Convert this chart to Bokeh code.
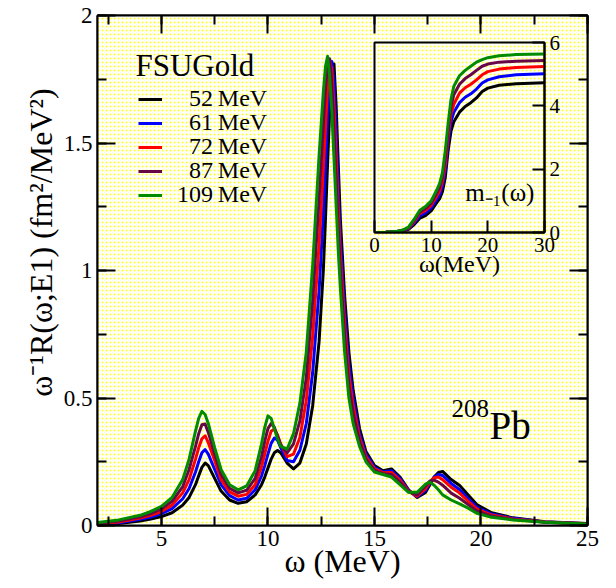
from bokeh.plotting import figure
from bokeh.models import (LinearAxis, SingleIntervalTicker, FixedTicker, BoxAnnotation,
                          Legend, LegendItem, Label, Range1d, CustomJSTickFormatter)
from bokeh.embed import file_html
from bokeh.resources import INLINE

FONT = "Liberation Serif"

# ---------------- data: main panel ----------------
omega = [2, 3, 4, 4.5, 5, 5.5, 6, 6.3, 6.6, 6.75, 6.9, 7.05, 7.2, 7.5, 7.8, 8.2, 8.6, 9.0, 9.4, 9.7,
         9.85, 10.0, 10.15, 10.3, 10.45, 10.6, 10.9, 11.2, 11.5, 11.8, 12.1, 12.4, 12.6, 12.7, 12.8,
         12.9, 13.0, 13.1, 13.2, 13.3, 13.4, 13.6, 13.8, 14.0, 14.3, 14.6, 15.0, 15.4, 15.8, 16.2,
         16.6, 17.0, 17.4, 17.6, 17.8, 18.0, 18.2, 18.6, 19.0, 19.4, 19.8, 20.5, 21.5, 23, 25]

r52 = [0.003, 0.008, 0.018, 0.025, 0.035, 0.05, 0.08, 0.11, 0.16, 0.195,
       0.228, 0.245, 0.235, 0.185, 0.135, 0.1, 0.087, 0.093, 0.12, 0.16,
       0.19, 0.225, 0.26, 0.285, 0.294, 0.285, 0.245, 0.222, 0.245, 0.32,
       0.47, 0.72, 1.0, 1.2, 1.42, 1.63, 1.78, 1.81, 1.65, 1.42,
       1.2, 0.9, 0.68, 0.53, 0.38, 0.29, 0.235, 0.215, 0.222, 0.19,
       0.14, 0.11, 0.13, 0.16, 0.19, 0.208, 0.212, 0.18, 0.157, 0.12,
       0.082, 0.05, 0.03, 0.015, 0.008]
r61 = [0.005, 0.011, 0.024, 0.033, 0.046, 0.066, 0.105, 0.145, 0.21, 0.25,
       0.285, 0.298, 0.28, 0.22, 0.16, 0.117, 0.1, 0.107, 0.14, 0.195,
       0.235, 0.28, 0.322, 0.343, 0.335, 0.305, 0.255, 0.25, 0.295, 0.4,
       0.6, 0.92, 1.22, 1.4, 1.6, 1.76, 1.82, 1.74, 1.55, 1.32,
       1.12, 0.84, 0.63, 0.5, 0.36, 0.28, 0.228, 0.21, 0.215, 0.185,
       0.138, 0.112, 0.138, 0.165, 0.19, 0.2, 0.196, 0.165, 0.14, 0.105,
       0.072, 0.045, 0.028, 0.014, 0.007]
r72 = [0.007, 0.014, 0.029, 0.04, 0.055, 0.08, 0.128, 0.18, 0.26, 0.305,
       0.34, 0.352, 0.325, 0.255, 0.18, 0.132, 0.115, 0.122, 0.16, 0.23,
       0.28, 0.33, 0.37, 0.378, 0.355, 0.32, 0.27, 0.28, 0.345, 0.49,
       0.74, 1.1, 1.4, 1.56, 1.72, 1.82, 1.79, 1.64, 1.45, 1.24,
       1.06, 0.79, 0.59, 0.47, 0.345, 0.27, 0.222, 0.207, 0.208, 0.178,
       0.135, 0.115, 0.145, 0.17, 0.187, 0.19, 0.18, 0.15, 0.127, 0.095,
       0.065, 0.041, 0.026, 0.014, 0.007]
r87 = [0.009, 0.018, 0.034, 0.047, 0.065, 0.095, 0.152, 0.22, 0.31, 0.36,
       0.395, 0.398, 0.365, 0.28, 0.2, 0.146, 0.128, 0.138, 0.185, 0.27,
       0.33, 0.38, 0.4, 0.385, 0.35, 0.315, 0.285, 0.32, 0.41, 0.58,
       0.88, 1.28, 1.57, 1.71, 1.81, 1.83, 1.73, 1.56, 1.37, 1.17,
       1.0, 0.74, 0.55, 0.44, 0.33, 0.26, 0.216, 0.203, 0.2, 0.17,
       0.132, 0.12, 0.155, 0.175, 0.178, 0.17, 0.158, 0.127, 0.107, 0.082,
       0.057, 0.037, 0.024, 0.013, 0.006]
r109 = [0.012, 0.022, 0.04, 0.055, 0.075, 0.11, 0.18, 0.26, 0.37, 0.42,
        0.448, 0.435, 0.4, 0.305, 0.22, 0.16, 0.14, 0.155, 0.215, 0.32,
        0.385, 0.43, 0.42, 0.38, 0.34, 0.31, 0.3, 0.36, 0.48, 0.68,
        1.02, 1.45, 1.7, 1.8, 1.84, 1.76, 1.62, 1.44, 1.26, 1.08,
        0.93, 0.68, 0.5, 0.4, 0.31, 0.25, 0.21, 0.2, 0.19, 0.16,
        0.13, 0.13, 0.162, 0.17, 0.158, 0.14, 0.12, 0.1, 0.085, 0.068,
        0.048, 0.032, 0.022, 0.013, 0.006]

# ---------------- data: inset (cumulative m_-1) ----------------
omega_cum = [0, 2, 4, 5, 6, 7, 8, 9, 10, 11, 11.5, 12, 12.5, 13, 13.5, 14, 15, 16, 17, 18, 19, 20, 22, 25, 30]
m52 = [0, 0.005, 0.02, 0.05, 0.1, 0.25, 0.45, 0.53, 0.68, 0.95, 1.07, 1.3, 1.75, 2.6, 3.2, 3.5, 3.8, 3.98, 4.1, 4.25, 4.45, 4.56, 4.65, 4.7, 4.73]
m61 = [0, 0.006, 0.025, 0.06, 0.12, 0.3, 0.53, 0.62, 0.78, 1.05, 1.2, 1.47, 1.95, 2.85, 3.5, 3.8, 4.1, 4.27, 4.38, 4.53, 4.72, 4.82, 4.92, 4.98, 5.01]
m72 = [0, 0.007, 0.03, 0.065, 0.135, 0.34, 0.6, 0.7, 0.86, 1.15, 1.32, 1.62, 2.15, 3.05, 3.75, 4.05, 4.4, 4.57, 4.68, 4.82, 4.98, 5.08, 5.16, 5.21, 5.24]
m87 = [0, 0.008, 0.035, 0.07, 0.15, 0.38, 0.65, 0.76, 0.93, 1.25, 1.43, 1.76, 2.38, 3.25, 3.98, 4.35, 4.68, 4.86, 4.98, 5.12, 5.25, 5.32, 5.38, 5.41, 5.43]
m109 = [0, 0.01, 0.04, 0.08, 0.17, 0.42, 0.7, 0.82, 1.0, 1.35, 1.55, 1.9, 2.6, 3.45, 4.2, 4.62, 4.95, 5.12, 5.25, 5.38, 5.46, 5.52, 5.58, 5.62, 5.64]

energies = ["52", "61", "72", "87", "109"]
colors = ["#000000", "#0000ff", "#ff0000", "#670748", "#008b00"]
main_series = [r52, r61, r72, r87, r109]
cum_series = [m52, m61, m72, m87, m109]
legend_title = "FSUGold"

y_tick_labels = {0: "0", 0.5: "0.5", 1: "1", 1.5: "1.5", 2: "2"}
inset_x_ticks = [0, 10, 20, 30]
inset_y_ticks = [0, 2, 4, 6]


def style_axis(ax, tick_in, minor_in, label_size="23px"):
    ax.major_tick_in = tick_in
    ax.major_tick_out = 0
    ax.minor_tick_in = minor_in
    ax.minor_tick_out = 0
    ax.axis_line_width = 2
    ax.major_tick_line_width = 2
    ax.minor_tick_line_width = 2
    ax.major_label_text_font = FONT
    ax.major_label_text_font_size = label_size
    ax.major_label_text_color = "black"
    ax.axis_label_text_font = FONT
    ax.axis_label_text_font_style = "normal"
    ax.axis_label_text_color = "black"


# ---------------- main figure ----------------
p = figure(width=616, height=588, x_range=Range1d(2, 25), y_range=Range1d(0, 2),
           output_backend="svg", toolbar_location=None,
           min_border_left=97, min_border_right=29, min_border_top=15, min_border_bottom=63)
p.grid.visible = False
p.background_fill_color = "white"
p.border_fill_color = "white"
p.outline_line_color = "black"
p.outline_line_width = 2

bg = BoxAnnotation(fill_color="#ffffff", fill_alpha=1.0, line_color=None,
                   hatch_pattern="dot", hatch_color="#ffff1a", hatch_scale=4, hatch_weight=1.4,
                   level="underlay")
p.add_layout(bg)

p.xaxis[0].ticker = SingleIntervalTicker(interval=5, num_minor_ticks=2)
p.yaxis[0].ticker = SingleIntervalTicker(interval=0.5, num_minor_ticks=2)
p.yaxis[0].major_label_overrides = y_tick_labels
style_axis(p.xaxis[0], 18, 9)
style_axis(p.yaxis[0], 18, 9)
p.xaxis[0].major_label_standoff = 5
p.yaxis[0].major_label_standoff = 5
p.xaxis[0].axis_label = "ω (MeV)"
p.xaxis[0].axis_label_text_font_size = "32px"
p.xaxis[0].axis_label_standoff = -6
p.yaxis[0].axis_label = "\u00a0" * 7 + "ω⁻¹R(ω;E1) (fm²/MeV²)"
p.yaxis[0].axis_label_text_font_size = "32px"
p.yaxis[0].axis_label_standoff = 2

top_ax = LinearAxis(ticker=SingleIntervalTicker(interval=5, num_minor_ticks=2),
                    formatter=CustomJSTickFormatter(code="return ''"))
right_ax = LinearAxis(ticker=SingleIntervalTicker(interval=0.5, num_minor_ticks=2),
                      formatter=CustomJSTickFormatter(code="return ''"))
for ax in (top_ax, right_ax):
    style_axis(ax, 18, 9, "1px")
    ax.major_label_standoff = 0
p.add_layout(top_ax, "above")
p.add_layout(right_ax, "right")

# one legend box per row so the rows can sit as tightly as in the original
row_bottoms = [413, 389, 365, 341, 317]
for e, c, ys, yb in zip(energies, colors, main_series, row_bottoms):
    r = p.line(omega, ys, line_color=c, line_width=3, line_join="round")
    pad = "\u2007" if len(e) == 2 else ""
    lg = Legend(items=[LegendItem(label=pad + e + "\u2009MeV", renderers=[r])],
                location=(41, yb),
                label_text_font=FONT, label_text_font_size="24px", label_text_color="black",
                glyph_width=24, glyph_height=24, label_height=24, label_standoff=15,
                spacing=0, padding=0, margin=0, border_line_color=None,
                background_fill_alpha=0)
    p.add_layout(lg)

p.add_layout(Label(x=3.78, y=1.805, text=legend_title, text_font=FONT, text_font_size="31px",
                   text_baseline="middle", text_color="black"))

p.add_layout(Label(x=20.40, y=0.392, text="Pb", text_font=FONT, text_font_size="39px",
                   text_baseline="alphabetic", text_color="black"))
p.add_layout(Label(x=20.38, y=0.459, text="208", text_font=FONT, text_font_size="25px",
                   text_align="right", text_baseline="alphabetic", text_color="black"))

# ---------------- inset figure ----------------
ins = figure(width=215, height=265, x_range=Range1d(0, 30), y_range=Range1d(0, 6),
             y_axis_location="right", output_backend="svg", toolbar_location=None,
             min_border_left=10, min_border_top=15, min_border_right=35, min_border_bottom=60)
ins.grid.visible = False
ins.background_fill_alpha = 0
ins.border_fill_alpha = 0
ins.outline_line_color = "black"
ins.outline_line_width = 2
ins.xaxis[0].ticker = FixedTicker(ticks=inset_x_ticks, minor_ticks=[])
ins.yaxis[0].ticker = FixedTicker(ticks=inset_y_ticks, minor_ticks=[])
style_axis(ins.xaxis[0], 12, 0, "21px")
style_axis(ins.yaxis[0], 12, 0, "21px")
ins.xaxis[0].major_label_standoff = 5
ins.yaxis[0].major_label_standoff = 5
ins.xaxis[0].axis_label = "ω(MeV)"
ins.xaxis[0].axis_label_text_font_size = "24px"
ins.xaxis[0].axis_label_standoff = -4

for c, ys in zip(colors, cum_series):
    ins.line(omega_cum, ys, line_color=c, line_width=3, line_join="round")

ins.add_layout(Label(x=16.0, y=1.27, text="m₋₁(ω)", text_font=FONT, text_font_size="25px",
                     text_baseline="alphabetic", text_color="black"))

ins.styles = {"position": "absolute", "left": "364px", "top": "27px", "z-index": "2"}

open("out.html", "w").write(file_html([p, ins], INLINE))
